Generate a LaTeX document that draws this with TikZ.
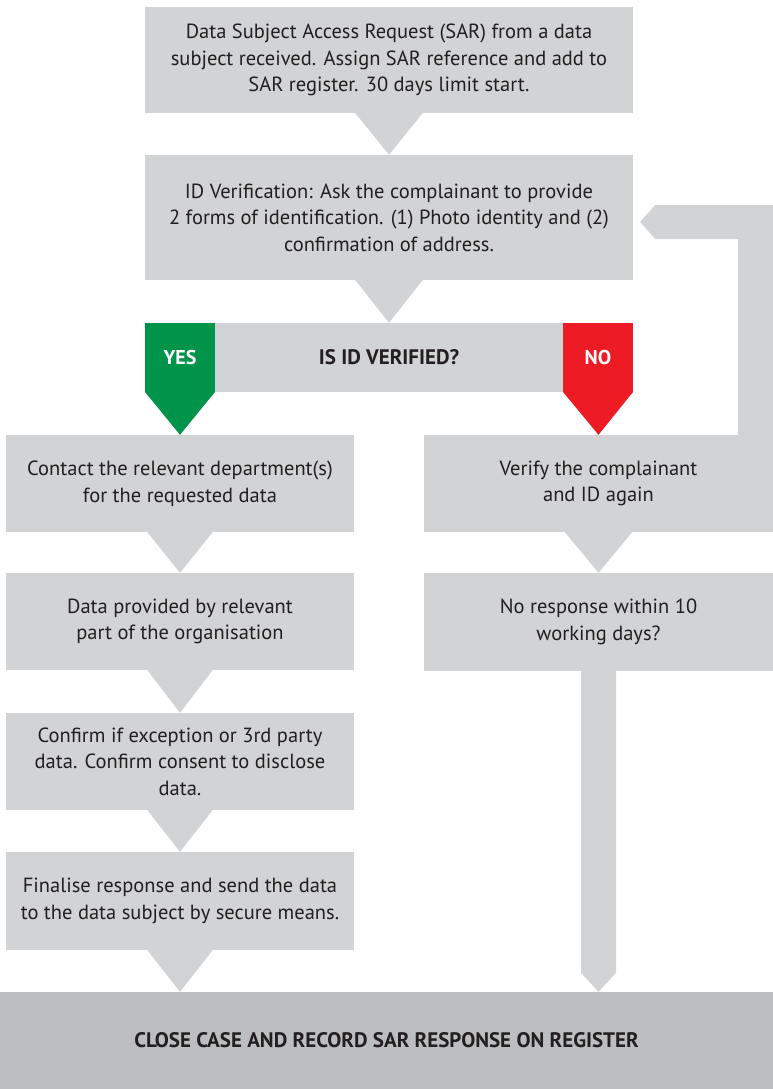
\documentclass[tikz,border=0pt]{standalone}
\usepackage{fontspec}
\setmainfont{PT Sans}
\usetikzlibrary{calc}
\definecolor{boxgray}{HTML}{D1D3D4}
\definecolor{bargray}{HTML}{BCBEC0}
\definecolor{yesgreen}{HTML}{00944A}
\definecolor{nored}{HTML}{ED1C24}
\definecolor{txt}{HTML}{231F20}
\begin{document}
\begin{tikzpicture}[x=1pt,y=-1pt,
  box/.style={fill=boxgray, draw=none, inner sep=0pt, align=center, text=txt,
    font=\fontsize{20.5}{26.5}\selectfont},
  wide/.style={minimum width=488pt},
  col/.style={minimum width=348pt, minimum height=97pt},
  boldtxt/.style={font=\fontsize{21}{24}\selectfont\bfseries},
  yesno/.style={draw=none, inner sep=0pt, text=white, minimum width=70pt, minimum height=69pt,
    font=\fontsize{20}{24}\selectfont\bfseries},
  conn/.style={fill=boxgray}
]
\useasboundingbox (0,0) rectangle (773,1089);
\fill[white] (0,0) rectangle (773,1089);

% top boxes
\node[box, wide, minimum height=106pt] (b1) at (389,60)
  {Data Subject Access Request (SAR) from a data\\subject received. Assign SAR reference and add to\\SAR register. 30 days limit start.};
\node[box, wide, minimum height=125pt] (b2) at (389,217.5)
  {ID Verification: Ask the complainant to provide\\2 forms of identification. (1) Photo identity and (2)\\confirmation of address.};
\node[box, wide, minimum height=69pt, boldtxt] (dec) at (389,357.5) {IS ID VERIFIED?};
\node[yesno, fill=yesgreen] (yes) at (180,357.5) {YES};
\node[yesno, fill=nored] (no) at (598,357.5) {NO};

% left column
\node[box, col] (c1) at (180,483.5) {Contact the relevant department(s)\\for the requested data};
\node[box, col] (c2) at (180,621.5) {Data provided by relevant\\part of the organisation};
\node[box, col] (c3) at (180,761.5) {Confirm if exception or 3rd party\\data. Confirm consent to disclose\\data.};
\node[box, col, minimum height=98pt] (c4) at (180,901) {Finalise response and send the data\\to the data subject by secure means.};

% right column
\node[box, minimum width=349pt, minimum height=97pt] (v1) at (598.5,483.5) {Verify the complainant\\and ID again};
\node[box, minimum width=349pt, minimum height=98pt] (v2) at (598.5,622) {No response within 10\\working days?};

% bottom bar
\node[box, fill=bargray, minimum width=773pt, minimum height=97pt, boldtxt] (bot) at (386.5,1040.5)
  {CLOSE CASE AND RECORD SAR RESPONSE ON REGISTER};

% connectors (triangles)
\fill[conn] ($(b1.south)+(-34,-0.5)$) -- ($(b1.south)+(34,-0.5)$) -- (b2.north) -- cycle;
\fill[conn] ($(b2.south)+(-34,-0.5)$) -- ($(b2.south)+(34,-0.5)$) -- (dec.north) -- cycle;
\fill[yesgreen] ($(yes.south west)+(0,-0.5)$) -- ($(yes.south east)+(0,-0.5)$) -- (c1.north) -- cycle;
\fill[nored] ($(no.south west)+(0,-0.5)$) -- ($(no.south east)+(0,-0.5)$) -- (v1.north) -- cycle;
\fill[conn] ($(c1.south)+(-33,-0.5)$) -- ($(c1.south)+(33,-0.5)$) -- (c2.north) -- cycle;
\fill[conn] ($(c2.south)+(-33,-0.5)$) -- ($(c2.south)+(33,-0.5)$) -- (c3.north) -- cycle;
\fill[conn] ($(c3.south)+(-33,-0.5)$) -- ($(c3.south)+(33,-0.5)$) -- (c4.north) -- cycle;
\fill[conn] ($(c4.south)+(-33,-0.5)$) -- ($(c4.south)+(33,-0.5)$) -- (bot.north -| c4.south) -- cycle;
\fill[conn] ($(v1.south)+(-34,-0.5)$) -- ($(v1.south)+(34,-0.5)$) -- (v2.north) -- cycle;

% long bar from "No response" down to bottom bar
\coordinate (vt) at (bot.north -| v2.south);
\fill[conn] ($(v2.south)+(-17.5,-0.5)$) -- ($(v2.south)+(17.5,-0.5)$)
  -- ($(vt)+(17.5,-19)$) -- (vt) -- ($(vt)+(-17.5,-19)$) -- cycle;

% return arrow from "Verify" back to ID verification
\coordinate (rt) at ($(b2.east)+(7,4.5)$);
\fill[conn] ($(v1.north east)+(0,0.5)$) -- ($(v1.north east)+(-35,0.5)$)
  -- ($(rt -| v1.north east)+(-35,17)$) -- ($(rt)+(15,17)$) -- (rt)
  -- ($(rt)+(15,-17)$) -- ($(rt -| v1.north east)+(0,-17)$) -- cycle;
\end{tikzpicture}
\end{document}
